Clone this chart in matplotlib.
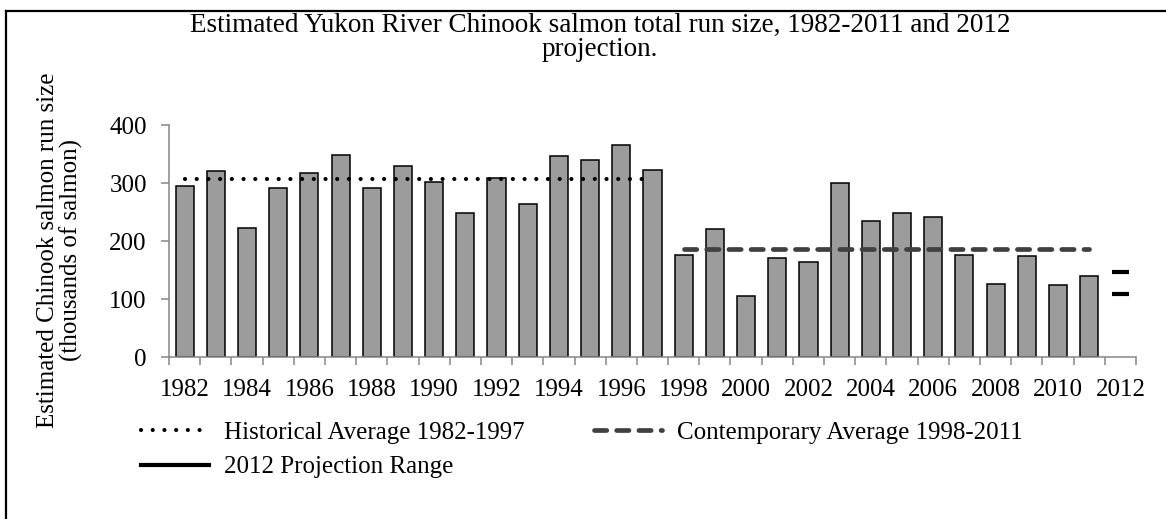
import numpy as np
import matplotlib
matplotlib.use("Agg")
import matplotlib.pyplot as plt
from matplotlib.lines import Line2D

plt.rcParams['font.family'] = ['Liberation Serif', 'DejaVu Serif']

# data (thousands of salmon)
years = list(range(1982, 2013))
run_size = [295, 321, 222, 291, 318, 349, 291, 329, 302, 249,
            308, 264, 346, 340, 366, 323, 176, 221, 105, 171,
            163, 300, 235, 249, 241, 176, 126, 174, 124, 140]
hist_avg = 307
cont_avg = 186
proj_low = 109
proj_high = 146
tick_labels = [str(y) if y % 2 == 0 else '' for y in years]

FS = 18
W, H = 1166, 519
fig = plt.figure(figsize=(W / 100, H / 100), dpi=100)
ax = fig.add_axes([169 / W, 1 - 357 / H, (1136 - 169) / W, (357 - 125) / H])

x = np.arange(len(years))
ax.bar(x[:len(run_size)], run_size, width=0.58, color='#9c9c9c',
       edgecolor='black', linewidth=1.1, zorder=2)

# historical average, dotted
hx = [years.index(1982), years.index(1997)]
ax.plot(hx, [hist_avg, hist_avg], color='black', lw=3,
        linestyle=(0, (0.01, 2.8)), dash_capstyle='round', zorder=3)
# contemporary average, dashed
cx = [years.index(1998), years.index(2011)]
ax.plot(cx, [cont_avg, cont_avg], color='#404040', lw=3.4,
        linestyle=(0, (2.6, 2.1)), dash_capstyle='round', zorder=3)
# 2012 projection range
px = years.index(2012)
ax.hlines([proj_low, proj_high], px - 0.27, px + 0.27, color='black', lw=3, zorder=3)

ax.set_xlim(-0.5, len(years) - 0.5)
ax.set_ylim(0, 400)
ax.set_yticks([0, 100, 200, 300, 400])
ax.set_xticks(x)
ax.set_xticklabels(tick_labels)
ax.set_xticks(np.arange(-0.5, len(years)), minor=True)
ax.tick_params(axis='x', which='major', length=0, labelsize=FS, pad=16)
ax.tick_params(axis='x', which='minor', length=6, width=1.1, color='#868686')
ax.tick_params(axis='y', length=6, width=1.1, color='#868686', labelsize=FS, pad=10)

for s in ['top', 'right']:
    ax.spines[s].set_visible(False)
for s in ['left', 'bottom']:
    ax.spines[s].set_color('#868686')
    ax.spines[s].set_linewidth(1.1)

fig.text(600 / W, 1 - 37 / H,
         'Estimated Yukon River Chinook salmon total run size, 1982-2011 and 2012\nprojection.',
         ha='center', va='center', fontsize=19.5, linespacing=0.95)
fig.text(60 / W, 1 - 250 / H,
         'Estimated Chinook salmon run size\n(thousands of salmon)',
         ha='center', va='center', rotation=90, fontsize=FS, linespacing=1.05)

handles = [
    Line2D([], [], color='black', lw=3, linestyle=(0, (0.01, 2.8)), dash_capstyle='round'),
    Line2D([], [], color='black', lw=3),
    Line2D([], [], color='#404040', lw=3.4, linestyle=(0, (2.6, 2.1)), dash_capstyle='round'),
]
labels = ['Historical Average 1982-1997', '2012 Projection Range',
          'Contemporary Average 1998-2011']
fig.legend(handles, labels, loc='upper left', bbox_to_anchor=(141 / W, 1 - 421 / H),
           ncol=2, frameon=False, fontsize=FS, handlelength=2.7,
           handletextpad=0.6, columnspacing=2.8, labelspacing=0.5,
           borderpad=0, borderaxespad=0)

# frame around the figure (top and left edges visible)
fig.add_artist(Line2D([6 / W, 6 / W], [0, 1 - 11 / H], color='black', lw=1.6))
fig.add_artist(Line2D([6 / W, 1], [1 - 11 / H, 1 - 11 / H], color='black', lw=1.6))

fig.savefig('out.png', dpi=100)
